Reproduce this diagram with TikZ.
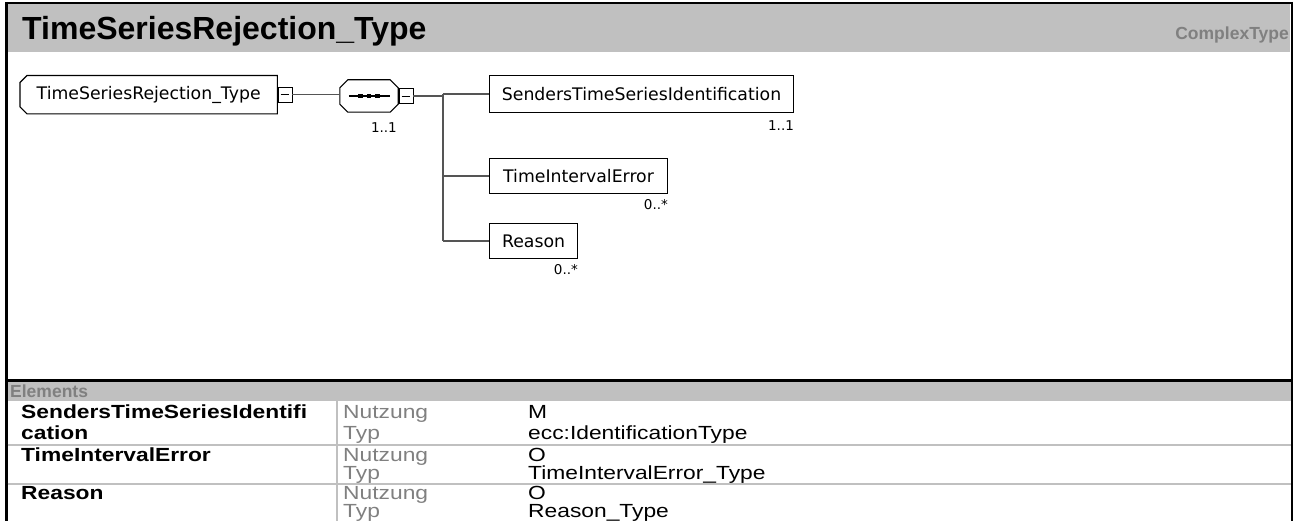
\documentclass[tikz,border=0pt]{standalone}
\usepackage{fontspec}
\setmainfont{Liberation Sans}
\newfontfamily\tabfont[FakeStretch=1.2]{Liberation Sans}
\newfontfamily\dgfont{DejaVu Sans}
\definecolor{barGray}{HTML}{C0C0C0}
\definecolor{txtGray}{HTML}{808080}
\definecolor{lineGray}{HTML}{555555}
\tikzset{
  elbox/.style={draw=black, line width=1.1pt, rectangle, inner sep=0pt, anchor=north west,
    minimum height=37pt, font=\dgfont\fontsize{17.3}{20}\selectfont},
  minusbox/.style={draw=black, line width=0.9pt, rectangle, inner sep=0pt, minimum width=14pt, minimum height=15pt},
  mult/.style={anchor=north east, inner sep=0pt, font=\dgfont\fontsize{13.5}{15}\selectfont},
  conn/.style={draw=lineGray, line width=1.3pt},
  tname/.style={anchor=base west, inner sep=0pt, font=\tabfont\bfseries\fontsize{19}{22}\selectfont},
  tlabel/.style={anchor=base west, inner sep=0pt, text=txtGray, font=\tabfont\fontsize{19}{22}\selectfont},
  tval/.style={anchor=base west, inner sep=0pt, font=\tabfont\fontsize{19}{22}\selectfont},
}
\begin{document}
\begin{tikzpicture}[x=1pt, y=-1pt]
\useasboundingbox (0,0) rectangle (1293,521);
% title bar
\fill[barGray] (7,4) rectangle (1290,52);
\node[anchor=base west, inner sep=0pt, font=\bfseries\fontsize{32}{36}\selectfont] (title) at (22,40) {TimeSeriesRejection\_Type};
\node[anchor=base east, inner sep=0pt, text=txtGray, font=\bfseries\fontsize{17.5}{20}\selectfont] (ctype) at (1289,40) {ComplexType};
% frame
\draw[line width=2pt] (6,3) -- (1291.5,3);
\draw[line width=3pt] (6,2) -- (6,521);
\draw[line width=2pt] (1291.5,2) -- (1291.5,521);
\draw[line width=3pt] (6,380) -- (1291.5,380);
% elements bar
\fill[barGray] (7.5,381.5) rectangle (1290.5,401);
\node[anchor=base west, inner sep=0pt, text=txtGray, font=\bfseries\fontsize{17.5}{20}\selectfont] (elem) at (10,397) {Elements};
% table separators
\draw[barGray, line width=2pt] (7.5,445) -- (1290.5,445);
\draw[barGray, line width=2pt] (7.5,484) -- (1290.5,484);
\draw[barGray, line width=2pt] (337,401) -- (337,521);
% rows
\node[tname] (n1a) at (21,418) {SendersTimeSeriesIdentifi};
\node[tname] (n1b) at (21,439) {cation};
\node[tlabel] (l1a) at (343,418) {Nutzung};
\node[tlabel] (l1b) at (343,439) {Typ};
\node[tval] (v1a) at (528,418) {M};
\node[tval] (v1b) at (528,439) {ecc:IdentificationType};
\node[tname] (n2a) at (21,461) {TimeIntervalError};
\node[tlabel] (l2a) at (343,461) {Nutzung};
\node[tlabel] (l2b) at (343,479) {Typ};
\node[tval] (v2a) at (528,461) {O};
\node[tval] (v2b) at (528,479) {TimeIntervalError\_Type};
\node[tname] (n3a) at (21,499) {Reason};
\node[tlabel] (l3a) at (343,499) {Nutzung};
\node[tlabel] (l3b) at (343,517) {Typ};
\node[tval] (v3a) at (528,499) {O};
\node[tval] (v3b) at (528,517) {Reason\_Type};
% diagram: root
\node[draw=none, rectangle, inner sep=0pt, minimum width=257pt, minimum height=38pt, anchor=north west,
  font=\dgfont\fontsize{17.3}{20}\selectfont] (root) at (20,75.5) {TimeSeriesRejection\_Type};
\draw[line width=1.1pt] ([xshift=7pt]root.north west) -- (root.north east) -- (root.south east)
  -- ([xshift=7pt]root.south west) -- ([yshift=7pt]root.south west) -- ([yshift=-7pt]root.north west) -- cycle;
\node[minusbox] (rminus) at (285,94.5) {};
\draw[line width=0.9pt] ([xshift=3pt]rminus.west) -- ([xshift=-3pt]rminus.east);
% sequence compositor
\node[draw=none, rectangle, inner sep=0pt, minimum width=58pt, minimum height=32pt] (seq) at (369,96) {};
\draw[line width=1.1pt] ([xshift=8pt]seq.north west) -- ([xshift=-8pt]seq.north east) -- ([yshift=-8pt]seq.north east)
  -- ([yshift=8pt]seq.south east) -- ([xshift=-8pt]seq.south east) -- ([xshift=8pt]seq.south west)
  -- ([yshift=8pt]seq.south west) -- ([yshift=-8pt]seq.north west) -- cycle;
\draw[line width=1.1pt] ([xshift=9pt]seq.west) -- ([xshift=-8pt]seq.east);
\foreach \dx in {-8.5,0,8.5} \fill ([xshift=\dx pt]seq.center) ++(-2.2pt,-2.2pt) rectangle ++(4.4pt,4.4pt);
\node[minusbox] (sminus) at (406,96) {};
\draw[line width=0.9pt] ([xshift=3pt]sminus.west) -- ([xshift=-3pt]sminus.east);
\node[mult] (seqm) at (397,122) {1..1};
% children
\node[elbox, minimum width=304pt] (sti) at (489,75) {SendersTimeSeriesIdentification};
\node[elbox, minimum width=178pt, minimum height=35pt] (tie) at (489,158) {TimeIntervalError};
\node[elbox, minimum width=88pt, minimum height=35pt] (rsn) at (489,223) {Reason};
\node[mult] (stim) at (sti.south east) [yshift=-7pt] {1..1};
\node[mult] (tiem) at (tie.south east) [yshift=-5pt] {0..*};
\node[mult] (rsnm) at (rsn.south east) [yshift=-5pt] {0..*};
% connectors
\coordinate (bus) at (443,96);
\draw[conn] (rminus.east) -- (rminus.east -| seq.west);
\draw[conn] (sminus.east) -- (bus);
\draw[conn] (bus |- sti.west) -- (bus |- rsn.west);
\draw[conn] (bus |- sti.west) -- (sti.west);
\draw[conn] (bus |- tie.west) -- (tie.west);
\draw[conn] (bus |- rsn.west) -- (rsn.west);
\end{tikzpicture}
\end{document}
